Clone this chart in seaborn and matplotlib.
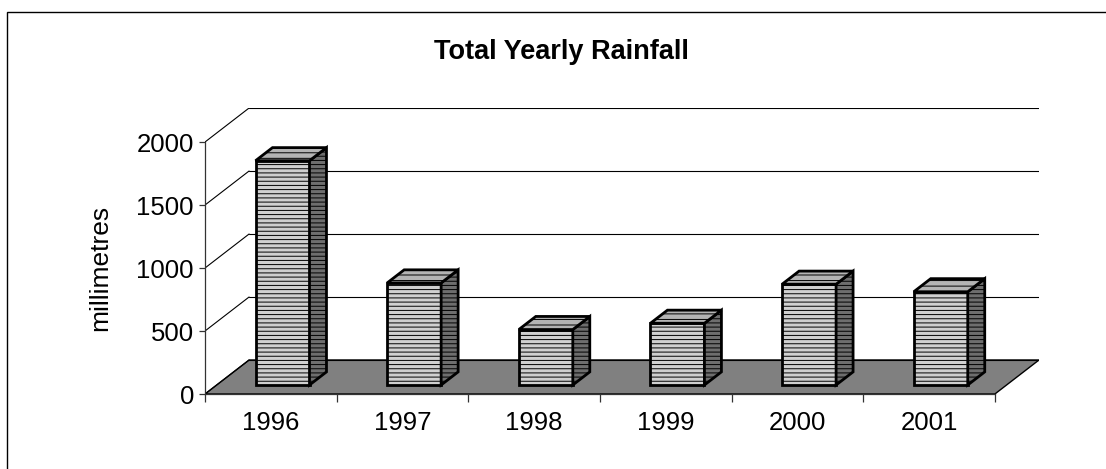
import numpy as np
import pandas as pd
import matplotlib
matplotlib.use("Agg")
import matplotlib.pyplot as plt
import matplotlib.transforms as mtransforms
from matplotlib.patches import Polygon, Rectangle
import seaborn as sns

# ─── DATA ────────────────────────────────────────────────────────────────────

YEARS = ["1996", "1997", "1998", "1999", "2000", "2001"]
RAINFALL = [1780, 810, 440, 490, 800, 740]
Y_TICKS = [0, 500, 1000, 1500, 2000]

TITLE = "Total Yearly Rainfall"
Y_LABEL = "millimetres"

# ─── 3D LOOK ─────────────────────────────────────────────────────────────────

DX, DY = 0.335, 270          # depth of the floor (category units, mm)
F0, F1 = 0.265, 0.65         # front / back of the bars as a share of depth
BAR_W = 0.41

sns.set_style("white")
plt.rcParams["font.family"] = ["Liberation Sans", "DejaVu Sans"]
plt.rcParams["text.color"] = "black"
plt.rcParams["xtick.color"] = "black"
plt.rcParams["ytick.color"] = "black"
plt.rcParams["hatch.linewidth"] = 0.7

df = pd.DataFrame({"year": YEARS, "rain": RAINFALL})

fig = plt.figure(figsize=(11.06, 4.69), dpi=100)
ax = fig.add_axes([205 / 1106, 75 / 469, 834 / 1106, 286 / 469])

n = len(YEARS)
x0, x1 = -0.5, n - 0.5
ymax = Y_TICKS[-1]

# floor
ax.add_patch(Polygon([(x0, 0), (x1, 0), (x1 + DX, DY), (x0 + DX, DY)],
                     closed=True, facecolor="#808080", edgecolor="black",
                     linewidth=1, zorder=1))

# back wall gridlines + left wall diagonals
for g in Y_TICKS:
    ax.plot([x0 + DX, x1 + DX], [g + DY, g + DY], color="black", lw=0.8, zorder=1.5)
    ax.plot([x0, x0 + DX], [g, g + DY], color="black", lw=0.8, zorder=1.5)

# front faces
sns.barplot(data=df, x="year", y="rain", color="#d0d0d0", width=BAR_W,
            edgecolor="black", linewidth=2, hatch="----", saturation=1,
            ax=ax, zorder=3)
front = mtransforms.Affine2D().translate(F0 * DX, F0 * DY) + ax.transData
for p in ax.patches[1:]:
    p.set_transform(front)

# sides and tops
for i, v in enumerate(RAINFALL):
    xl, xr = i - BAR_W / 2, i + BAR_W / 2
    a = (F0 * DX, F0 * DY)
    b = (F1 * DX, F1 * DY)
    side = [(xr + a[0], a[1]), (xr + a[0], v + a[1]),
            (xr + b[0], v + b[1]), (xr + b[0], b[1])]
    top = [(xl + a[0], v + a[1]), (xr + a[0], v + a[1]),
           (xr + b[0], v + b[1]), (xl + b[0], v + b[1])]
    ax.add_patch(Polygon(side, closed=True, facecolor="#6e6e6e",
                         edgecolor="black", linewidth=2, hatch="----", zorder=3))
    ax.add_patch(Polygon(top, closed=True, facecolor="#b4b4b4",
                         edgecolor="black", linewidth=2, hatch="---", zorder=3))

ax.set_xlim(x0, x1 + DX)
ax.set_ylim(0, ymax + DY)

for s in ["top", "right"]:
    ax.spines[s].set_visible(False)
ax.spines["left"].set_bounds(0, ymax)
ax.spines["bottom"].set_bounds(x0, x1)
for s in ["left", "bottom"]:
    ax.spines[s].set_color("#333333")
    ax.spines[s].set_linewidth(0.9)
    ax.spines[s].set_zorder(2)

ax.set_yticks(Y_TICKS)
ax.set_yticklabels([str(t) for t in Y_TICKS])
ax.set_xticks(range(n))
ax.set_xticklabels(YEARS)
ax.set_xticks(np.arange(x0, x1 + 0.01, 1.0), minor=True)
ax.tick_params(axis="y", direction="out", length=4, width=0.9, pad=4,
               labelsize=18.5, left=True, color="#333333")
ax.tick_params(axis="x", which="major", length=0, pad=12, labelsize=18.5)
ax.tick_params(axis="x", which="minor", direction="out", length=6, width=0.9,
               bottom=True, color="#333333")
ax.set_xlabel("")
ax.set_ylabel("")
ax.patch.set_alpha(0)

fig.text(561 / 1106, 1 - 52 / 469, TITLE, ha="center", va="center",
         fontsize=19.5, fontweight="bold")
fig.text(100 / 1106, 1 - 268 / 469, Y_LABEL, ha="center", va="center",
         rotation=90, fontsize=19)

# chart area frame (right and bottom run off the picture)
fig.patches.append(Rectangle((7 / 1106, -0.2), 1.2, 1.2 - 12 / 469,
                             transform=fig.transFigure, fill=False,
                             edgecolor="black", linewidth=1))

fig.savefig("out.png", dpi=100)
